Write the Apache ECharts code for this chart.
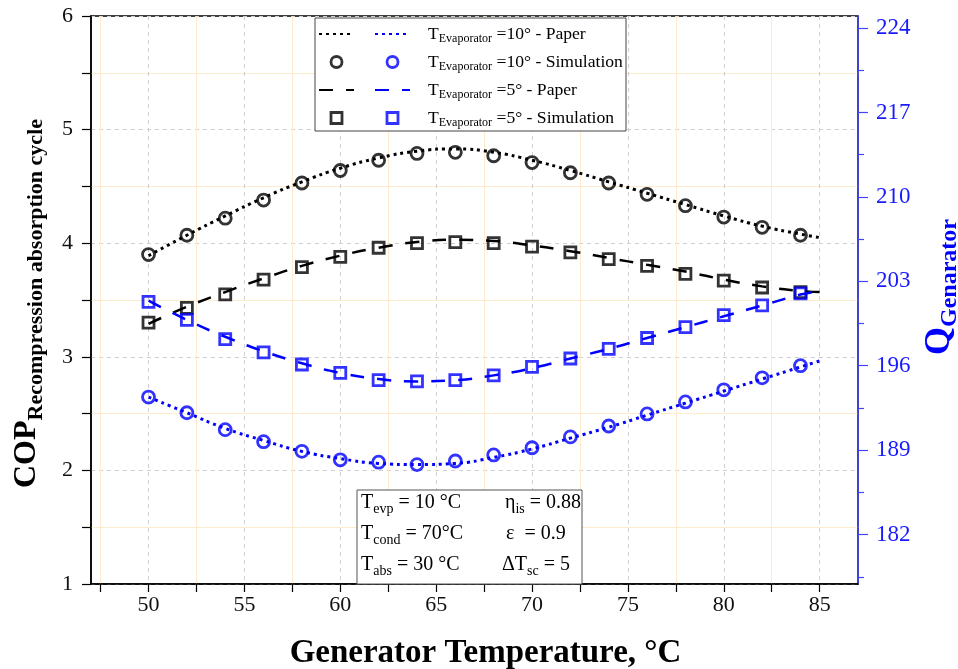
<!DOCTYPE html>
<html>
<head>
<meta charset="utf-8">
<script src="https://cdn.jsdelivr.net/npm/echarts@6/dist/echarts.min.js"></script>
<style>
html, body { margin: 0; padding: 0; background: #fff; }
#main { width: 958px; height: 669px; }
</style>
</head>
<body>
<div id="main"></div>
<script>
// generator temperature (°C)
var xSim = [50, 52, 54, 56, 58, 60, 62, 64, 66, 68, 70, 72, 74, 76, 78, 80, 82, 84];
var xPaper = [50, 52, 54, 56, 58, 60, 62, 64, 66, 68, 70, 72, 74, 76, 78, 80, 82, 84, 85];

// COP, left axis
var cop10Paper = [3.89, 4.07, 4.24, 4.40, 4.54, 4.66, 4.75, 4.81, 4.83, 4.80, 4.73, 4.64, 4.54, 4.44, 4.34, 4.24, 4.15, 4.08, 4.05];
var cop10Sim = [3.90, 4.07, 4.22, 4.38, 4.53, 4.64, 4.73, 4.79, 4.80, 4.77, 4.71, 4.62, 4.53, 4.43, 4.33, 4.23, 4.14, 4.07];
var cop5Paper = [3.29, 3.44, 3.57, 3.69, 3.80, 3.89, 3.96, 4.01, 4.03, 4.02, 3.98, 3.93, 3.87, 3.81, 3.75, 3.68, 3.62, 3.58, 3.57];
var cop5Sim = [3.30, 3.43, 3.55, 3.68, 3.79, 3.88, 3.96, 4.00, 4.01, 4.00, 3.97, 3.92, 3.86, 3.80, 3.73, 3.67, 3.61, 3.57];

// Q generator, right axis
var q10Paper = [193.4, 192.1, 190.8, 189.8, 188.9, 188.3, 187.9, 187.8, 187.9, 188.4, 189.1, 190.0, 190.9, 191.9, 192.9, 193.9, 194.9, 195.9, 196.4];
var q10Sim = [193.4, 192.1, 190.7, 189.7, 188.9, 188.2, 188.0, 187.8, 188.1, 188.6, 189.2, 190.1, 191.0, 192.0, 193.0, 194.0, 195.0, 196.0];
var q5Paper = [201.4, 199.8, 198.4, 197.2, 196.2, 195.4, 194.9, 194.7, 194.8, 195.2, 195.8, 196.6, 197.4, 198.3, 199.2, 200.1, 201.0, 201.9, 202.2];
var q5Sim = [201.3, 199.8, 198.2, 197.1, 196.1, 195.4, 194.8, 194.7, 194.8, 195.2, 195.9, 196.6, 197.4, 198.3, 199.2, 200.2, 201.0, 202.0];

// ticks
var xLabels = [50, 55, 60, 65, 70, 75, 80, 85];
var xMinor = [47.5, 52.5, 57.5, 62.5, 67.5, 72.5, 77.5, 82.5];
var qLabels = [182, 189, 196, 203, 210, 217, 224];
var qMinor = [178.5, 185.5, 192.5, 199.5, 206.5, 213.5, 220.5];

var legendText = {
    q10p: 'T{s|Evaporator} =10° - Paper',
    q10s: 'T{s|Evaporator} =10° - Simulation',
    q5p: 'T{s|Evaporator} =5° - Paper',
    q5s: 'T{s|Evaporator} =5° - Simulation'
};

var serif = 'Liberation Serif';
var BLUE = '#0000ff';
var SQUARE = 'path://M0,0H10V10H0Z';

function pairs(xs, ys) {
    return xs.map(function (x, i) { return [x, ys[i]]; });
}

var myChart = echarts.init(document.getElementById('main'));

var hollow = function (c) {
    return { color: 'rgba(0,0,0,0)', borderColor: c, borderWidth: 2.8 };
};
var noSymbol = { color: 'rgba(0,0,0,0)', borderWidth: 0 };
var dotted = [3, 4];
var dashed = [14, 13];

var subStyle = { fontFamily: serif, fontSize: 14, lineHeight: 26, verticalAlign: 'bottom', padding: [9, 0, 0, 0] };
function note(x, y, txt) {
    return {
        type: 'text', x: x, y: y, z: 5,
        style: { text: txt, fontFamily: serif, fontSize: 20, fill: '#000', lineHeight: 26, rich: { s: subStyle } }
    };
}

var option = {
    animation: false,
    backgroundColor: '#fff',
    grid: {
        left: 91, right: 100, top: 16, bottom: 85,
        outerBoundsMode: 'none',
        show: true, borderColor: '#000', borderWidth: 1.5, backgroundColor: 'rgba(0,0,0,0)'
    },
    xAxis: [
        {
            type: 'value', min: 47, max: 87,
            name: '{g|}Generator Temperature, °C',
            nameLocation: 'middle', nameGap: 53,
            nameTextStyle: {
                fontFamily: serif, fontWeight: 'bold', fontSize: 33, color: '#000',
                rich: { g: { width: 22 } }
            },
            axisLine: { show: true, lineStyle: { color: '#000', width: 1.5 } },
            axisTick: { show: true, inside: false, length: 8, customValues: xLabels, lineStyle: { color: '#000', width: 1.2 } },
            axisLabel: { customValues: xLabels, fontFamily: serif, fontSize: 22, color: '#111', margin: 10 },
            splitLine: { show: true, lineStyle: { color: '#cfcfcf', type: [4, 4], width: 1 } }
        },
        {
            type: 'value', min: 47, max: 87, position: 'bottom',
            axisLine: { show: false },
            axisTick: { show: true, inside: false, length: 8, customValues: xMinor, lineStyle: { color: '#000', width: 1.2 } },
            axisLabel: { show: false },
            splitLine: { show: true, lineStyle: { color: '#fcebcc', width: 1 } }
        }
    ],
    yAxis: [
        {
            type: 'value', min: 1, max: 6, interval: 1, position: 'left',
            name: '{a|COP}{b|Recompression absorption cycle}',
            nameLocation: 'middle', nameGap: 44,
            nameTextStyle: {
                padding: [0, 7, 0, 0],
                rich: {
                    a: { fontFamily: serif, fontWeight: 'bold', fontSize: 32, color: '#000', lineHeight: 40 },
                    b: { fontFamily: serif, fontWeight: 'bold', fontSize: 22, color: '#000', lineHeight: 40, verticalAlign: 'bottom', padding: [14, 0, 0, 0] }
                }
            },
            axisLine: { show: true, lineStyle: { color: '#000', width: 1.5 } },
            axisTick: { show: true, inside: false, length: 9, lineStyle: { color: '#000', width: 1.2 } },
            minorTick: { show: true, splitNumber: 2, length: 9, lineStyle: { color: '#000', width: 1.2 } },
            axisLabel: { fontFamily: serif, fontSize: 22, color: '#111', margin: 18 },
            splitLine: { show: true, lineStyle: { color: '#cfcfcf', type: [4, 4], width: 1 } },
            minorSplitLine: { show: true, lineStyle: { color: '#fcebcc', width: 1 } }
        },
        {
            type: 'value', min: 177.9, max: 225, position: 'right',
            name: '{a|Q}{b|Genarator}',
            nameLocation: 'middle', nameGap: 46,
            nameTextStyle: {
                padding: [0, 0, 0, 26],
                rich: {
                    a: { fontFamily: serif, fontWeight: 'bold', fontSize: 36, color: BLUE, lineHeight: 44 },
                    b: { fontFamily: serif, fontWeight: 'bold', fontSize: 24, color: BLUE, lineHeight: 44, verticalAlign: 'bottom', padding: [14, 0, 0, 0] }
                }
            },
            axisLine: { show: true, lineStyle: { color: '#4444ff', width: 1.5 } },
            axisTick: { show: true, inside: false, length: 10, customValues: qLabels, lineStyle: { color: '#4444ff', width: 1.2 } },
            axisLabel: { customValues: qLabels, fontFamily: serif, fontSize: 23, color: '#1a1aff', margin: 18 },
            splitLine: { show: false }
        },
        {
            type: 'value', min: 177.9, max: 225, position: 'right',
            axisLine: { show: false },
            axisTick: { show: true, inside: false, length: 6, customValues: qMinor, lineStyle: { color: '#4444ff', width: 1.2 } },
            axisLabel: { show: false },
            splitLine: { show: false }
        }
    ],
    legend: [
        {
            orient: 'vertical', left: 318, top: 23, padding: 0,
            itemWidth: 35, itemHeight: 11, itemGap: 6,
            selectedMode: false,
            data: [
                { name: 'b10p', itemStyle: noSymbol },
                { name: 'b10s', icon: 'circle', itemStyle: hollow('#000') },
                { name: 'b5p', itemStyle: noSymbol },
                { name: 'b5s', icon: SQUARE, itemStyle: hollow('#000') }
            ],
            formatter: function () { return ' '; },
            textStyle: { fontFamily: serif, fontSize: 18, lineHeight: 22, height: 22, width: 2 }
        },
        {
            orient: 'vertical', left: 374, top: 23, padding: 0,
            itemWidth: 35, itemHeight: 11, itemGap: 6,
            selectedMode: false,
            data: [
                { name: 'q10p', itemStyle: noSymbol },
                { name: 'q10s', icon: 'circle', itemStyle: hollow(BLUE) },
                { name: 'q5p', itemStyle: noSymbol },
                { name: 'q5s', icon: SQUARE, itemStyle: hollow(BLUE) }
            ],
            formatter: function (name) { return legendText[name]; },
            textStyle: {
                fontFamily: serif, fontSize: 17.6, color: '#000', lineHeight: 22, height: 22,
                padding: [0, 0, 0, 13],
                rich: { s: { fontFamily: serif, fontSize: 12, color: '#000', lineHeight: 22, verticalAlign: 'bottom', padding: [7, 0, 0, 0] } }
            }
        }
    ],
    graphic: [
        { type: 'rect', z: 1, shape: { x: 315, y: 18, width: 311, height: 113 }, style: { fill: '#fff', stroke: '#444', lineWidth: 1 } },
        { type: 'rect', z: 1, shape: { x: 357, y: 490, width: 225, height: 94 }, style: { fill: '#fff', stroke: '#555', lineWidth: 1 } },
        note(361, 490, 'T{s|evp} = 10 °C'),
        note(361, 521, 'T{s|cond} = 70°C'),
        note(361, 552, 'T{s|abs} = 30 °C'),
        note(505, 490, 'η{s|is} = 0.88'),
        note(506, 521, 'ε  = 0.9'),
        note(502, 552, 'ΔT{s|sc} = 5')
    ],
    series: [
        {
            name: 'b10p', type: 'line', yAxisIndex: 0, smooth: true, symbol: 'none',
            lineStyle: { color: '#000', width: 3, type: dotted },
            data: pairs(xPaper, cop10Paper)
        },
        {
            name: 'q10p', type: 'line', yAxisIndex: 1, smooth: true, symbol: 'none',
            lineStyle: { color: BLUE, width: 3, type: dotted },
            data: pairs(xPaper, q10Paper)
        },
        {
            name: 'b10s', type: 'scatter', yAxisIndex: 0, symbol: 'circle', symbolSize: 12,
            itemStyle: hollow('#000'),
            data: pairs(xSim, cop10Sim)
        },
        {
            name: 'q10s', type: 'scatter', yAxisIndex: 1, symbol: 'circle', symbolSize: 12,
            itemStyle: hollow(BLUE),
            data: pairs(xSim, q10Sim)
        },
        {
            name: 'b5p', type: 'line', yAxisIndex: 0, smooth: true, symbol: 'none',
            lineStyle: { color: '#000', width: 2.5, type: dashed },
            data: pairs(xPaper, cop5Paper)
        },
        {
            name: 'q5p', type: 'line', yAxisIndex: 1, smooth: true, symbol: 'none',
            lineStyle: { color: BLUE, width: 2.5, type: dashed },
            data: pairs(xPaper, q5Paper)
        },
        {
            name: 'b5s', type: 'scatter', yAxisIndex: 0, symbol: 'rect', symbolSize: 11,
            itemStyle: hollow('#000'),
            data: pairs(xSim, cop5Sim)
        },
        {
            name: 'q5s', type: 'scatter', yAxisIndex: 1, symbol: 'rect', symbolSize: 11,
            itemStyle: hollow(BLUE),
            data: pairs(xSim, q5Sim)
        }
    ]
};

myChart.setOption(option);
</script>
</body>
</html>
